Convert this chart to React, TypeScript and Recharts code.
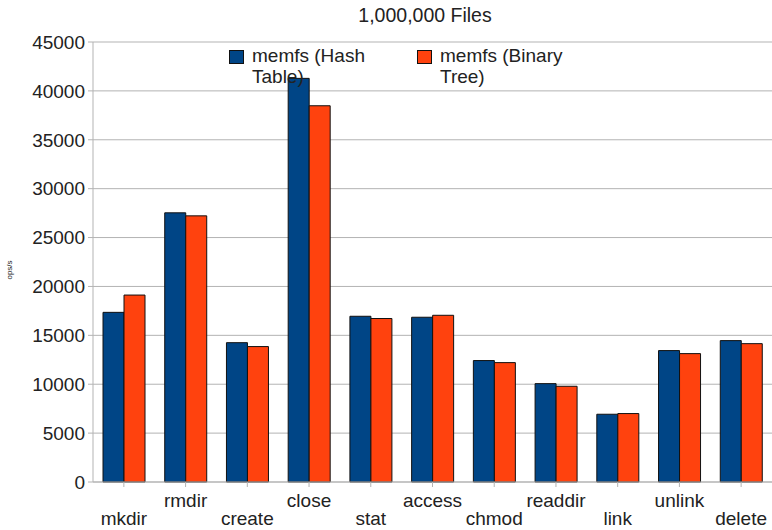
import { BarChart, Bar, XAxis, YAxis, CartesianGrid } from "recharts";

const categories = [
  "mkdir",
  "rmdir",
  "create",
  "close",
  "stat",
  "access",
  "chmod",
  "readdir",
  "link",
  "unlink",
  "delete",
];
const hashTable = [17350, 27530, 14250, 41280, 16950, 16850, 12420, 10060, 6930, 13440, 14460];
const binaryTree = [19120, 27220, 13850, 38480, 16720, 17050, 12210, 9790, 7000, 13130, 14150];
const yTicks = [0, 5000, 10000, 15000, 20000, 25000, 30000, 35000, 40000, 45000];

const seriesNames = ["memfs (Hash Table)", "memfs (Binary Tree)"];
const seriesColors = ["#004586", "#ff420e"];

const FONT = '"Liberation Sans", Arial, sans-serif';
const TEXT = "#222";
const GRID = "#b3b3b3";

const data = categories.map((name, i) => ({
  name,
  hash: hashTable[i],
  binary: binaryTree[i],
}));

// staggered category labels, odd ones on the upper row
function StaggerTick(props: any) {
  const { x, y, payload } = props;
  const upper = payload.index % 2 === 1;
  return (
    <text
      x={x}
      y={y}
      dy={upper ? 18 : 36}
      textAnchor="middle"
      fontSize={19}
      fontFamily={FONT}
      fill={TEXT}
    >
      {payload.value}
    </text>
  );
}

export default function App() {
  return (
    <div
      style={{
        position: "absolute",
        left: 0,
        top: 0,
        width: 772,
        height: 530,
        background: "#fff",
        fontFamily: FONT,
      }}
    >
      <BarChart
        width={772}
        height={530}
        data={data}
        margin={{ top: 42, right: 0, left: 0, bottom: 0 }}
        barCategoryGap={10}
        barGap={0}
      >
        <CartesianGrid vertical={false} stroke={GRID} />
        <XAxis
          dataKey="name"
          height={48}
          interval={0}
          tick={<StaggerTick />}
          tickSize={5}
          tickMargin={2}
          axisLine={{ stroke: GRID }}
          tickLine={{ stroke: GRID }}
        />
        <YAxis
          width={93}
          domain={[0, 45000]}
          ticks={yTicks}
          interval={0}
          tickSize={5}
          tickMargin={3}
          tick={{ fontSize: 19, fill: TEXT, fontFamily: FONT }}
          axisLine={{ stroke: GRID }}
          tickLine={{ stroke: GRID }}
        />
        <Bar
          dataKey="hash"
          name={seriesNames[0]}
          fill={seriesColors[0]}
          stroke="#111"
          strokeWidth={1}
          isAnimationActive={false}
        />
        <Bar
          dataKey="binary"
          name={seriesNames[1]}
          fill={seriesColors[1]}
          stroke="#111"
          strokeWidth={1}
          isAnimationActive={false}
        />
      </BarChart>

      {/* title */}
      <div
        style={{
          position: "absolute",
          top: 4,
          left: 0,
          width: 850,
          textAlign: "center",
          fontSize: 19.5,
          lineHeight: "22px",
          color: TEXT,
        }}
      >
        1,000,000 Files
      </div>

      {/* y axis label */}
      <div
        style={{
          position: "absolute",
          left: -10,
          top: 265,
          width: 40,
          textAlign: "center",
          fontSize: 8,
          lineHeight: "10px",
          color: TEXT,
          transform: "rotate(-90deg)",
        }}
      >
        ops/s
      </div>

      {/* legend, two entries with wrapped names */}
      {seriesNames.map((name, i) => {
        const left = i === 0 ? 229 : 417;
        const words = name.split(" ");
        return (
          <div key={name} style={{ position: "absolute", left, top: 45 }}>
            <span
              style={{
                position: "absolute",
                left: 0,
                top: 5,
                width: 13,
                height: 12,
                background: seriesColors[i],
                border: "1px solid #111",
              }}
            />
            <div
              style={{
                position: "absolute",
                left: 23,
                top: 0,
                whiteSpace: "nowrap",
                fontSize: 19,
                lineHeight: "21px",
                color: TEXT,
              }}
            >
              {words.slice(0, 2).join(" ")}
              <br />
              {words.slice(2).join(" ")}
            </div>
          </div>
        );
      })}
    </div>
  );
}
